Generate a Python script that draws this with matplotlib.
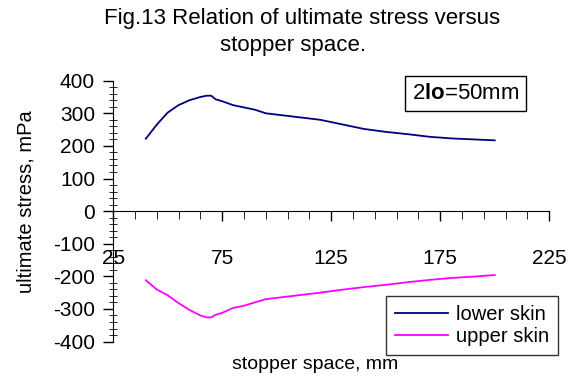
import matplotlib.pyplot as plt
from matplotlib.ticker import MultipleLocator

plt.rcParams['font.family'] = ['Liberation Sans', 'DejaVu Sans']
plt.rcParams['mathtext.fontset'] = 'custom'
plt.rcParams['mathtext.rm'] = 'Liberation Sans'
plt.rcParams['mathtext.bf'] = 'Liberation Sans:bold'
plt.rcParams['axes.unicode_minus'] = False

# stopper space, mm
space = [40, 45, 50, 55, 60, 65, 68, 70, 72, 75, 80, 85, 90, 95, 100,
         110, 120, 130, 140, 150, 160, 170, 180, 190, 200]
# ultimate stress, mPa
lower_skin = [222, 265, 302, 325, 340, 350, 354, 354, 343, 337, 325, 318, 311, 300, 296,
              288, 280, 266, 252, 243, 236, 228, 223, 220, 217]
upper_skin = [-212, -240, -258, -282, -303, -320, -326, -326, -318, -312, -297, -290, -280, -270, -266,
              -258, -250, -241, -233, -226, -218, -211, -205, -201, -196]

fig = plt.figure(figsize=(5.8, 3.77), dpi=100)
ax = fig.add_axes([0.195, 0.094, 0.752, 0.692])

ax.plot(space, lower_skin, color='#000080', lw=1.3, label='lower skin')
ax.plot(space, upper_skin, color='#FF00FF', lw=1.3, label='upper skin')

ax.set_xlim(25, 225)
ax.set_ylim(-400, 400)
ax.xaxis.set_major_locator(MultipleLocator(50, offset=25))
ax.xaxis.set_minor_locator(MultipleLocator(10, offset=5))
ax.yaxis.set_major_locator(MultipleLocator(100))
ax.yaxis.set_minor_locator(MultipleLocator(20))

ax.spines['top'].set_visible(False)
ax.spines['right'].set_visible(False)
ax.spines['bottom'].set_position(('data', 0))
ax.tick_params(axis='both', labelsize=15, color='black', width=1)
ax.tick_params(axis='x', which='major', length=7, pad=20)
ax.tick_params(axis='x', which='minor', length=6)
ax.tick_params(axis='y', which='major', length=7, pad=6)
ax.tick_params(axis='y', which='minor', length=6, direction='inout')

ax.set_ylabel('ultimate stress, mPa', fontsize=14.5)
ax.yaxis.set_label_coords(-0.178, 0.535)
fig.text(0.544, 0.032, 'stopper space, mm', fontsize=14, ha='center', va='center')

# title, two lines as in the original
fig.text(0.52, 0.952, 'Fig.13 Relation of ultimate stress versus', fontsize=16, ha='center', va='center')
fig.text(0.505, 0.88, 'stopper space.', fontsize=16, ha='center', va='center')

fig.text(0.803, 0.752, r'2$\mathbf{lo}$=50mm', fontsize=16, ha='center', va='center',
         bbox=dict(boxstyle='square,pad=0.3', fc='white', ec='black', lw=1))

ax.legend(loc='lower right', bbox_to_anchor=(0.962, 0.058), bbox_transform=fig.transFigure,
          fontsize=14.5, frameon=True, fancybox=False, edgecolor='black',
          borderaxespad=0, handlelength=2.6, handletextpad=0.4, labelspacing=0.15,
          borderpad=0.45)
ax.get_legend().get_frame().set_linewidth(1)

fig.savefig('out.png', dpi=100)
